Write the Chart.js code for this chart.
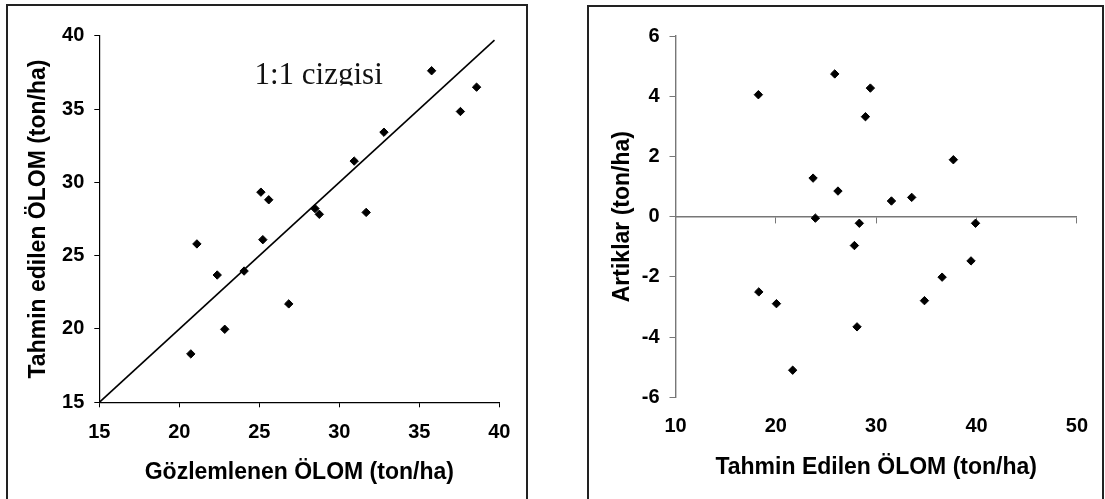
<!DOCTYPE html>
<html>
<head>
<meta charset="utf-8">
<script src="https://cdn.jsdelivr.net/npm/chart.js@4.4.0/dist/chart.umd.min.js"></script>
<style>
  html, body { margin: 0; padding: 0; background: #fff; width: 1105px; height: 499px; overflow: hidden; }
  .frame { position: absolute; border: 2px solid #222; }
  #f1 { left: 6px; top: 4px; width: 518px; height: 520px; }
  #f2 { left: 587px; top: 5px; width: 513px; height: 520px; }
  canvas { position: absolute; left: 0; top: 0; }
</style>
</head>
<body>
<div class="frame" id="f1"></div>
<div class="frame" id="f2"></div>
<canvas id="left" width="1105" height="499"></canvas>
<canvas id="right" width="1105" height="499"></canvas>
<script>
// left panel: observed vs predicted
var observed  = [20.72, 21.1, 22.37, 22.84, 24.05, 25.1, 25.22, 25.59, 26.84, 28.48, 28.75, 30.93, 31.68, 32.79, 35.77, 37.57, 38.58];
var predicted = [18.3, 25.8, 23.68, 19.98, 23.95, 29.33, 26.09, 28.81, 21.71, 28.21, 27.82, 31.45, 27.95, 33.42, 37.61, 34.83, 36.49];
var oneToOne  = [15, 39.7];
var lineLabel = '1:1 cizgisi';
var lineLabelAt = [24.7, 36.7];
var leftTicks = {min: 15, max: 40, step: 5};

// right panel: predicted vs residuals
var predX    = [18.26, 25.87, 29.42, 28.93, 37.69, 23.71, 26.19, 31.52, 33.54, 23.94, 28.32, 39.9, 27.83, 39.45, 36.57, 34.81, 18.3, 20.06, 28.09, 21.68];
var residual = [4.05, 4.74, 4.27, 3.32, 1.89, 1.28, 0.85, 0.52, 0.64, -0.05, -0.22, -0.22, -0.96, -1.47, -2.01, -2.79, -2.5, -2.89, -3.66, -5.1];
var rightX = {min: 10, max: 50, step: 10};
var rightY = {min: -6, max: 6, step: 2};

var fam = '"Liberation Sans", Arial, sans-serif';
var tickFont = {family: fam, size: 20, weight: 'bold'};
var titleFont = {family: fam, size: 23, weight: 'bold'};

function pts(xs, ys) {
  return xs.map(function (x, i) { return {x: x, y: ys[i]}; });
}

var labelPlugin = {
  id: 'lineLabel',
  afterDatasetsDraw: function (chart) {
    var ctx = chart.ctx;
    var x = chart.scales.x.getPixelForValue(lineLabelAt[0]);
    var y = chart.scales.y.getPixelForValue(lineLabelAt[1]);
    ctx.save();
    ctx.beginPath();
    ctx.rect(x - 5, y - 40, 220, 41.5);
    ctx.clip();
    ctx.font = '31px "Liberation Serif", "Times New Roman", serif';
    ctx.fillStyle = '#111';
    ctx.textBaseline = 'alphabetic';
    ctx.fillText(lineLabel, x, y);
    ctx.restore();
  }
};

new Chart(document.getElementById('left'), {
  type: 'scatter',
  data: {
    datasets: [{
      data: pts(observed, predicted),
      pointStyle: 'rectRot', pointRadius: 4.2, pointBorderWidth: 1,
      backgroundColor: '#000', borderColor: '#000'
    }, {
      type: 'line',
      data: pts(oneToOne, oneToOne),
      borderColor: '#000', borderWidth: 1.6, pointRadius: 0, fill: false
    }]
  },
  options: {
    responsive: false, animation: false, devicePixelRatio: 1,
    layout: {padding: {left: 0, top: 35.7, right: 605.7, bottom: 0}},
    plugins: {legend: {display: false}, tooltip: {enabled: false}},
    scales: {
      x: {
        type: 'linear', position: 'bottom', min: leftTicks.min, max: leftTicks.max,
        ticks: {stepSize: leftTicks.step, color: '#000', font: tickFont, padding: 13},
        grid: {drawOnChartArea: false, tickLength: 5, tickColor: '#000'},
        border: {color: '#000', width: 1.2},
        title: {display: true, text: 'Gözlemlenen ÖLOM (ton/ha)', color: '#000', font: titleFont, padding: {top: 0, bottom: 13}},
        afterFit: function (s) { s.height = 96.7; }
      },
      y: {
        type: 'linear', position: 'left', min: leftTicks.min, max: leftTicks.max,
        ticks: {stepSize: leftTicks.step, color: '#000', font: tickFont, padding: 10},
        grid: {drawOnChartArea: false, tickLength: 5, tickColor: '#000'},
        border: {color: '#000', width: 1.2},
        title: {display: true, text: 'Tahmin edilen ÖLOM (ton/ha)', color: '#000', font: titleFont, padding: {top: 25, bottom: 0}},
        afterFit: function (s) { s.width = 99.3; }
      }
    }
  },
  plugins: [labelPlugin]
});

new Chart(document.getElementById('right'), {
  type: 'scatter',
  data: {
    datasets: [{
      data: pts(predX, residual),
      pointStyle: 'rectRot', pointRadius: 4.2, pointBorderWidth: 1,
      backgroundColor: '#000', borderColor: '#000'
    }]
  },
  options: {
    responsive: false, animation: false, devicePixelRatio: 1,
    layout: {padding: {left: 580.5, top: 36, right: 21.7, bottom: 0}},
    plugins: {legend: {display: false}, tooltip: {enabled: false}},
    scales: {
      x: {
        type: 'linear', position: 'bottom', min: rightX.min, max: rightX.max,
        ticks: {stepSize: rightX.step, color: '#000', font: tickFont, padding: 17},
        grid: {display: false, drawTicks: false},
        border: {display: false},
        title: {display: true, text: 'Tahmin Edilen ÖLOM (ton/ha)', color: '#000', font: titleFont, padding: {top: 0, bottom: 18}},
        afterFit: function (s) { s.height = 101.7; }
      },
      x2: {
        type: 'linear', position: {y: 0}, min: rightX.min, max: rightX.max,
        ticks: {stepSize: rightX.step, display: false},
        grid: {drawOnChartArea: false, tickLength: 6, tickColor: '#777'},
        border: {color: '#777', width: 1.4}
      },
      y: {
        type: 'linear', position: 'left', min: rightY.min, max: rightY.max,
        ticks: {stepSize: rightY.step, color: '#000', font: tickFont, padding: 10},
        grid: {drawOnChartArea: false, tickLength: 6, tickColor: '#777'},
        border: {color: '#777', width: 1.4},
        title: {display: true, text: 'Artiklar (ton/ha)', color: '#000', font: titleFont, padding: {top: 28, bottom: 0}},
        afterFit: function (s) { s.width = 95; }
      }
    }
  }
});
</script>
</body>
</html>
